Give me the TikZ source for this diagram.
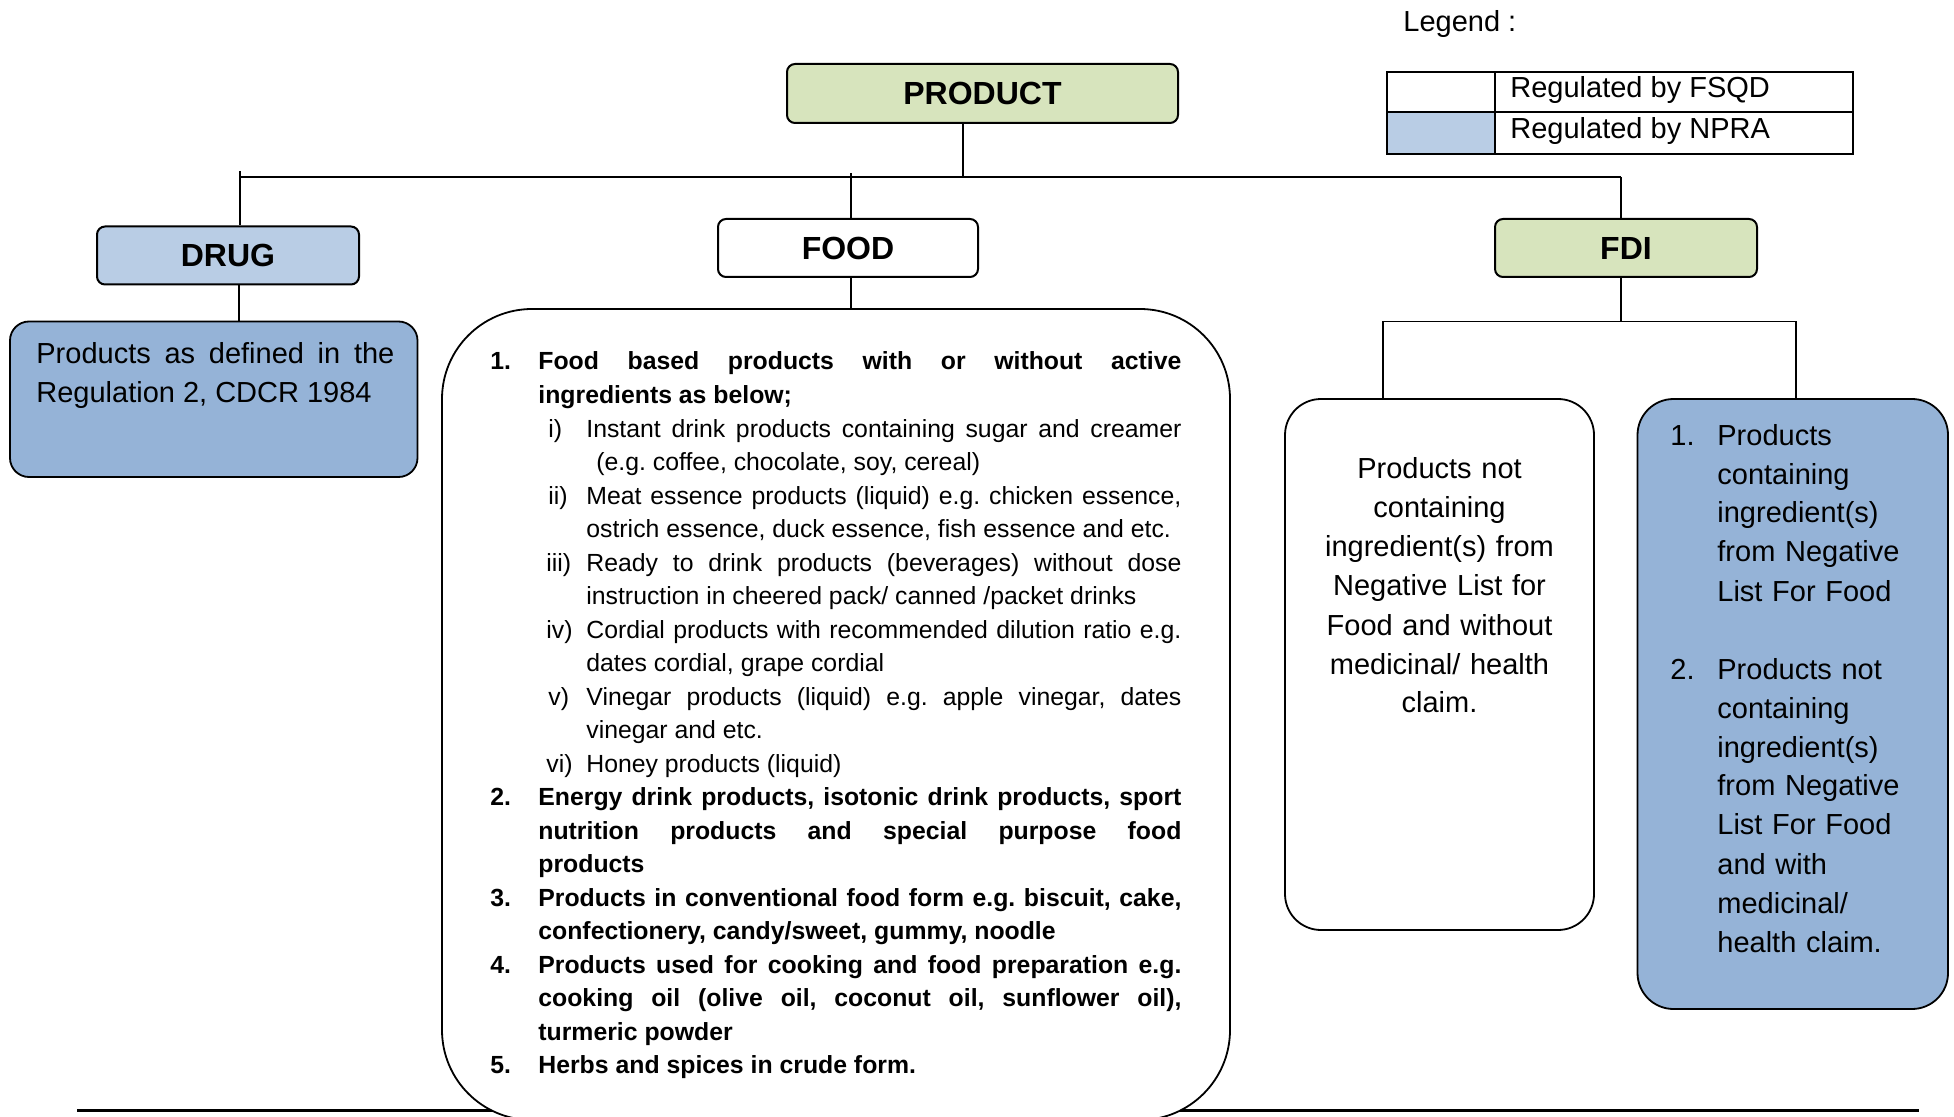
\documentclass[tikz,border=0pt]{standalone}
\usepackage{fontspec}
\setmainfont{Liberation Sans}
\frenchspacing
\definecolor{hgreen}{HTML}{D7E4BD}
\definecolor{lblue}{HTML}{B9CDE5}
\definecolor{mblue}{HTML}{95B3D7}
\newcommand{\fjline}[2]{\hbox to \hsize{\hspace*{#1}#2}}
\newcommand{\frline}[2]{\hbox to \hsize{\hspace*{#1}#2\hfil}}
\begin{document}
\begin{tikzpicture}[x=0.5pt,y=-0.5pt,
  head/.style={draw, rounded corners=4pt, line width=1pt, inner sep=0pt, minimum width=131pt, minimum height=29pt, font=\fontsize{16}{19}\selectfont\bfseries},
  box/.style={draw, line width=0.9pt, inner sep=0pt},
  cell/.style={draw, line width=1pt, inner sep=0pt, anchor=north west},
  conn/.style={line width=0.75pt},
  busline/.style={line width=1.4pt},
  txt/.style={inner sep=0pt, font=\fontsize{14.5}{19.5}\selectfont}]
\clip (0,0) rectangle (1954,1117);
\fill[white] (0,0) rectangle (1954,1117);

% legend
\node[txt, anchor=west] (legtitle) at (1403,24) {Legend :};
\node[cell, minimum width=54pt, minimum height=20pt] (l1a) at (1386,71) {};
\node[cell, minimum width=179pt, minimum height=20pt] (l1b) at (1494,71) {};
\node[cell, fill=lblue, minimum width=54pt, minimum height=21pt] (l2a) at (1386,111) {};
\node[cell, minimum width=179pt, minimum height=21pt] (l2b) at (1494,111) {};
\node[txt, anchor=west] (l1t) at ([xshift=8pt,yshift=1pt]l1b.west) {Regulated by FSQD};
\node[txt, anchor=west] (l2t) at ([xshift=8pt,yshift=1pt]l2b.west) {Regulated by NPRA};

% header boxes
\node[head, fill=hgreen, minimum width=195.5pt, minimum height=29.5pt] (product) at (982.5,93.5) {PRODUCT};
\node[head, fill=lblue] (drug) at (228,255.5) {DRUG};
\node[head, fill=white, minimum width=130pt] (food) at (848,248) {FOOD};
\node[head, fill=hgreen] (fdi) at (1626,248) {FDI};

% bus
\coordinate (pj) at (963,177);
\coordinate (dj) at (240,177);
\coordinate (fj) at (851,177);
\coordinate (ij) at (1621,177);
\draw[conn] (pj |- product.south) -- (pj);
\draw[busline] (dj) -- (ij);
\draw[conn] ([yshift=3pt]dj) -- (dj |- drug.north);
\draw[conn] ([yshift=2pt]fj) -- (fj |- food.north);
\draw[conn] (ij) -- (ij |- fdi.north);

% drug description
\node[box, fill=mblue, minimum width=203.75pt, minimum height=77.75pt, rounded corners=9.5pt] (drugdesc) at (213.75,399.25) {};
\coordinate (dd) at (239,300);
\draw[conn] (dd |- drug.south) -- (dd |- drugdesc.north);
\node[txt, anchor=base west] (drugtext) at (36,364) {\vtop{\hsize=179pt\baselineskip=19.5pt
\fjline{0pt}{Products as defined in the}
\frline{0pt}{Regulation 2, CDCR 1984}}};

% bottom rule and food box
\coordinate (bl) at (77,1110);
\coordinate (br) at (1919,1110);
\draw[line width=1.5pt] (bl) -- (br);
\node[box, fill=white, minimum width=394pt, minimum height=405.5pt, rounded corners=45pt] (foodbox) at (836,714.5) {};
\draw[conn] (fj |- food.south) -- (fj |- foodbox.north);
\node[inner sep=0pt, anchor=base west, font=\fontsize{12.4}{16.76}\selectfont] (foodtext) at (490,370) {\vtop{\hsize=345.5pt\baselineskip=16.76pt
\fjline{0pt}{\bfseries\makebox[24pt][l]{1.}Food based products with or without active}
\frline{24pt}{\bfseries ingredients as below;}
\fjline{29pt}{\makebox[19pt][l]{i)}Instant drink products containing sugar and creamer}
\frline{53pt}{(e.g. coffee, chocolate, soy, cereal)}
\fjline{29pt}{\makebox[19pt][l]{ii)}Meat essence products (liquid) e.g. chicken essence,}
\frline{48pt}{ostrich essence, duck essence, fish essence and etc.}
\fjline{28pt}{\makebox[20pt][l]{iii)}Ready to drink products (beverages) without dose}
\frline{48pt}{instruction in cheered pack/ canned /packet drinks}
\fjline{28pt}{\makebox[20pt][l]{iv)}Cordial products with recommended dilution ratio e.g.}
\frline{48pt}{dates cordial, grape cordial}
\fjline{29pt}{\makebox[19pt][l]{v)}Vinegar products (liquid) e.g. apple vinegar, dates}
\frline{48pt}{vinegar and etc.}
\frline{28pt}{\makebox[20pt][l]{vi)}Honey products (liquid)}
\fjline{0pt}{\bfseries\makebox[24pt][l]{2.}Energy drink products, isotonic drink products, sport}
\fjline{24pt}{\bfseries nutrition products and special purpose food}
\frline{24pt}{\bfseries products}
\fjline{0pt}{\bfseries\makebox[24pt][l]{3.}Products in conventional food form e.g. biscuit, cake,}
\frline{24pt}{\bfseries confectionery, candy/sweet, gummy, noodle}
\fjline{0pt}{\bfseries\makebox[24pt][l]{4.}Products used for cooking and food preparation e.g.}
\fjline{24pt}{\bfseries cooking oil (olive oil, coconut oil, sunflower oil),}
\frline{24pt}{\bfseries turmeric powder}
\frline{0pt}{\bfseries\makebox[24pt][l]{5.}Herbs and spices in crude form.}}};

% FDI branches
\node[box, fill=white, minimum width=154.5pt, minimum height=265.5pt, rounded corners=18pt] (fdil) at (1439.5,664.5) {};
\node[box, fill=mblue, minimum width=155.25pt, minimum height=305pt, rounded corners=18pt] (fdir) at (1792.75,704) {};
\coordinate (fb) at (1621,321.5);
\coordinate (fl) at (1383,321.5);
\coordinate (fr) at (1796,321.5);
\draw[conn] (ij |- fdi.south) -- (fb);
\draw[conn] (fl |- fdil.north) -- (fl) -- (fr) -- (fr |- fdir.north);
\node[txt, anchor=base, text width=150pt, align=center] (fdiltext) at (1439.5,479) {Products not\\containing\\ingredient(s) from\\Negative List for\\Food and without\\medicinal/ health\\claim.};
\node[txt, anchor=base west, text width=135pt, align=left] (fdirtext) at (1670,445) {\makebox[23.5pt][l]{1.}Products\\\hspace*{23.5pt}containing\\\hspace*{23.5pt}ingredient(s)\\\hspace*{23.5pt}from Negative\\\hspace*{23.5pt}List For Food\\\mbox{}\\\makebox[23.5pt][l]{2.}Products not\\\hspace*{23.5pt}containing\\\hspace*{23.5pt}ingredient(s)\\\hspace*{23.5pt}from Negative\\\hspace*{23.5pt}List For Food\\\hspace*{23.5pt}and with\\\hspace*{23.5pt}medicinal/\\\hspace*{23.5pt}health claim.};
\end{tikzpicture}
\end{document}
